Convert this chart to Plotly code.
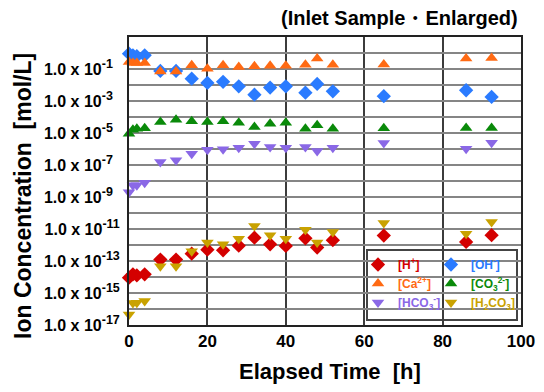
import plotly.graph_objects as go

# Elapsed time [h]
time_h = [0, 1, 2, 4, 8, 12, 16, 20, 24, 28, 32, 36, 40, 45, 48, 52, 65, 86, 92.5]

# Ion concentrations [mol/L]
h_plus = [9.1e-15, 1.48e-14, 1.26e-14, 1.48e-14, 1.23e-13, 1.23e-13, 2.88e-13, 5.13e-13,
          4.68e-13, 9.1e-13, 2.88e-12, 1.10e-12, 8.7e-13, 2.63e-12, 6.9e-13, 2.0e-12,
          3.9e-12, 1.55e-12, 4.1e-12]
oh_minus = [0.91, 0.72, 0.63, 0.72, 0.076, 0.076, 0.025, 0.0135, 0.0158, 0.0083, 0.0025,
            0.0069, 0.0083, 0.0033, 0.0117, 0.0040, 0.0020, 0.0047, 0.0018]
ca_2plus = [0.275, 0.24, 0.24, 0.24, 0.071, 0.071, 0.17, 0.105, 0.17, 0.135, 0.148,
            0.158, 0.158, 0.186, 0.45, 0.186, 0.19, 0.45, 0.49]
co3_2minus = [9.1e-6, 1.62e-5, 1.86e-5, 2.0e-5, 4.9e-5, 6.8e-5, 5.4e-5, 4.9e-5, 5.4e-5,
              4.3e-5, 2.4e-5, 3.8e-5, 4.3e-5, 1.86e-5, 3.0e-5, 1.86e-5, 2.0e-5, 2.04e-5,
              2.04e-5]
hco3_minus = [2.0e-9, 5.4e-9, 5.4e-9, 7.9e-9, 1.55e-7, 2.0e-7, 5.1e-7, 9.1e-7, 9.5e-7,
              1.2e-6, 2.14e-6, 1.35e-6, 1.2e-6, 1.35e-6, 7.6e-7, 1.2e-6, 2.4e-6, 1.05e-6,
              2.5e-6]
h2co3 = [4.5e-17, 2.4e-16, 2.5e-16, 3.2e-16, 4.7e-14, 4.7e-14, 4.1e-13, 1.41e-12, 1.1e-12,
         2.5e-12, 1.55e-11, 4.1e-12, 2.5e-12, 9.1e-12, 1.45e-12, 6.5e-12, 2.4e-11, 5.1e-12,
         2.75e-11]

# Y tick exponents (gridline every decade, label every other)
exponents = list(range(-17, 2))
labelled_exponents = [-1, -3, -5, -7, -9, -11, -13, -15, -17]

x_ticks = [0, 20, 40, 60, 80, 100]

FONT = "Liberation Sans, Arial, sans-serif"

series = [
    ("[H<sup>+</sup>]", h_plus, "diamond", "#d40000", "legend"),
    ("[OH<sup>-</sup>]", oh_minus, "diamond", "#2a7bff", "legend2"),
    ("[Ca<sup>2+</sup>]", ca_2plus, "triangle-up", "#ff6a13", "legend"),
    ("[CO<sub>3</sub><sup>2-</sup>]", co3_2minus, "triangle-up", "#0a8a0a", "legend2"),
    ("[HCO<sub>3</sub><sup>-</sup>]", hco3_minus, "triangle-down", "#8a68e6", "legend"),
    ("[H<sub>2</sub>CO<sub>3</sub>]", h2co3, "triangle-down", "#c9a200", "legend2"),
]

fig = go.Figure()
for name, vals, sym, col, lg in series:
    fig.add_trace(go.Scatter(
        x=time_h, y=vals, mode="markers",
        name=f"<span style='color:{col}'>{name}</span>",
        marker=dict(symbol=sym, size=11, color=col, line=dict(width=0)),
        cliponaxis=False, legend=lg,
    ))

def fmt(e):
    if e not in labelled_exponents:
        return ""
    sup = str(e)
    if len(sup) == 2:
        sup = sup + "\u2007"
    return f"1.0 x 10<sup><span style='font-size:12.5px'>{sup}</span></sup>"

tickvals = [10.0 ** e for e in exponents]
ticktext = [fmt(e) for e in exponents]

# page has an 8px body margin; plot area wanted at page x 129..521, y 37..325
OX, OY = 8, 8
PL, PR, PT, PB = 129, 521, 37, 325
PW, PH = PR - PL, PB - PT
W, H = 544 - OX, 392 - OY

def px(x):
    return (x - PL) / PW

def py(y):
    return (PB - y) / PH

fig.update_layout(
    width=W, height=H,
    margin=dict(l=PL - OX, r=W - (PR - OX), t=PT - OY, b=H - (PB - OY), autoexpand=False),
    paper_bgcolor="white", plot_bgcolor="white",
    font=dict(family=FONT, color="black"),
    showlegend=True,
    legend=dict(x=px(358), y=py(250), xanchor="left", yanchor="top",
                bgcolor="rgba(0,0,0,0)", borderwidth=0,
                font=dict(family=FONT, size=12, weight="bold"), tracegroupgap=0),
    legend2=dict(x=px(431), y=py(250), xanchor="left", yanchor="top",
                 bgcolor="rgba(0,0,0,0)", borderwidth=0,
                 font=dict(family=FONT, size=12, weight="bold"), tracegroupgap=0),
    xaxis=dict(range=[0, 100], tickvals=x_ticks, ticktext=[str(v) for v in x_ticks],
               showgrid=True, gridcolor="#3c3c3c", gridwidth=1.5, zeroline=False,
               showline=True, linecolor="#222", linewidth=2, mirror=True, automargin=False,
               ticks="", tickfont=dict(family=FONT, size=17, weight="bold", color="black")),
    yaxis=dict(type="log", range=[-17, 1], tickvals=tickvals, ticktext=ticktext,
               showgrid=True, gridcolor="#858585", gridwidth=2, zeroline=False,
               showline=True, linecolor="#222", linewidth=2, mirror=True, automargin=False,
               ticks="", ticklabelstandoff=4,
               tickfont=dict(family=FONT, size=16, weight="bold", color="black")),
    shapes=[dict(type="rect", xref="paper", yref="paper",
                 x0=px(367), x1=px(517), y0=py(320), y1=py(250),
                 fillcolor="white", line=dict(color="#444", width=2), layer="between")],
    annotations=[
        dict(text="(Inlet Sample・Enlarged)", xref="paper", yref="paper",
             x=px(520), y=py(18), xanchor="right", yanchor="middle",
             showarrow=False, font=dict(family=FONT, size=20, weight="bold", color="black")),
        dict(text="Ion Concentration\u00a0\u00a0[mol/L]", xref="paper", yref="paper",
             x=px(23), y=py(196), xanchor="center", yanchor="middle",
             textangle=-90, showarrow=False,
             font=dict(family=FONT, size=23, weight="bold", color="black")),
        dict(text="Elapsed Time\u00a0\u00a0[h]", xref="paper", yref="paper",
             x=px(330), y=py(371), xanchor="center", yanchor="middle",
             showarrow=False, font=dict(family=FONT, size=22, weight="bold", color="black")),
    ],
)

fig.write_html("out.html")
